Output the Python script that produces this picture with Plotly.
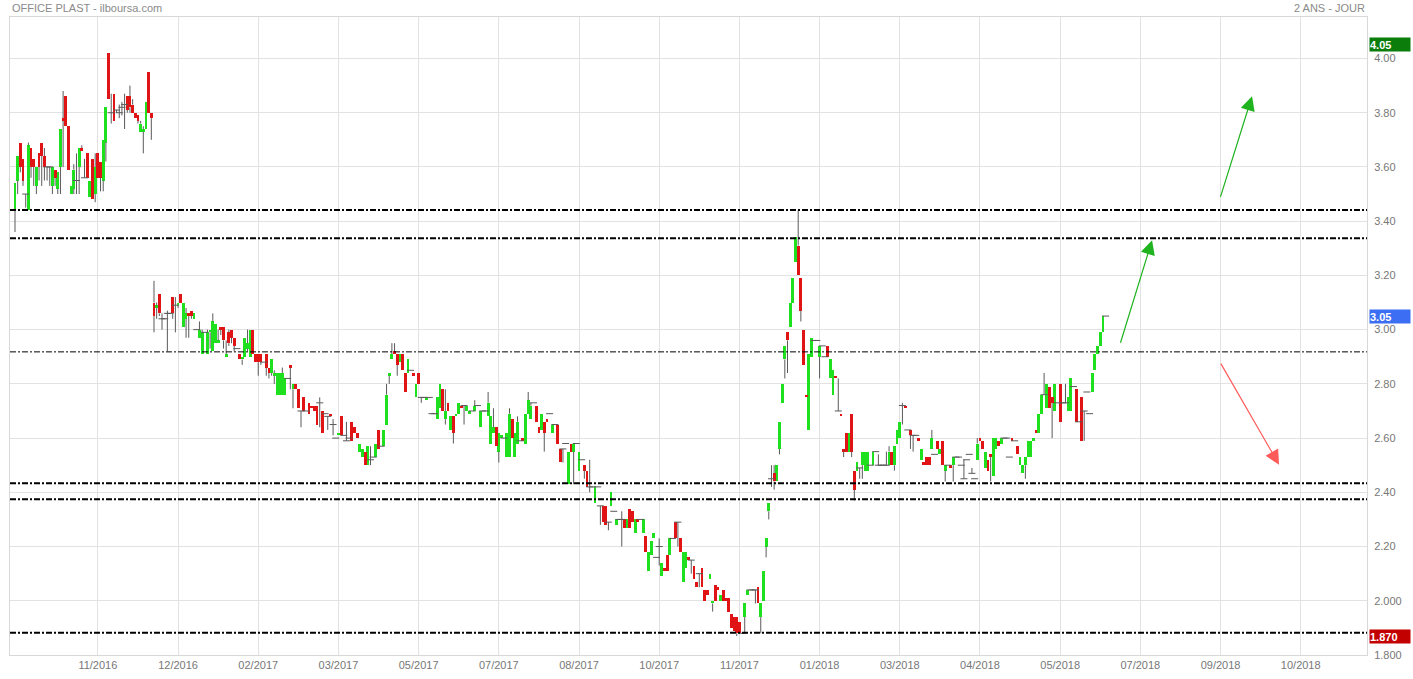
import plotly.graph_objects as go

title_left = "OFFICE PLAST - ilboursa.com"
title_right = "2 ANS - JOUR"

opens = [
    3.44,3.55,3.69,3.63,3.50,3.44,3.67,3.63,3.53,3.65,
    3.69,3.64,3.60,3.60,3.53,3.59,3.52,3.60,3.78,3.86,
    3.75,3.50,3.52,3.55,3.60,3.67,3.56,3.65,3.49,3.63,
    3.50,3.65,3.62,3.55,3.69,4.02,3.80,3.87,3.81,3.80,
    3.82,3.83,3.86,3.86,3.83,3.80,3.79,3.73,3.73,3.74,
    3.95,3.80,3.10,3.08,3.13,3.04,3.04,3.06,3.06,3.12,
    3.09,3.09,3.13,3.01,3.04,3.06,3.07,3.04,3.00,2.97,
    2.91,2.99,2.91,2.99,2.92,2.95,2.95,3.01,3.01,2.90,
    2.99,3.00,2.97,2.93,2.91,2.89,2.90,2.93,2.90,3.00,
    2.91,2.91,2.91,2.88,2.91,2.86,2.84,2.83,2.76,2.76,
    2.76,2.76,2.82,2.87,2.78,2.80,2.78,2.70,2.75,2.70,
    2.73,2.72,2.72,2.72,2.73,2.70,2.69,2.68,2.69,2.65,
    2.60,2.61,2.68,2.61,2.59,2.60,2.66,2.64,2.62,2.55,
    2.53,2.55,2.50,2.52,2.53,2.53,2.63,2.57,2.57,2.65,
    2.83,2.89,2.92,2.91,2.88,2.91,2.84,2.84,2.85,2.84,
    2.75,2.84,2.75,2.75,2.74,2.75,2.69,2.69,2.67,2.71,
    2.78,2.67,2.73,2.63,2.68,2.68,2.69,2.72,2.72,2.70,
    2.69,2.70,2.70,2.72,2.64,2.70,2.70,2.68,2.58,2.62,
    2.64,2.55,2.60,2.60,2.53,2.53,2.67,2.53,2.58,2.59,
    2.60,2.58,2.69,2.67,2.73,2.72,2.64,2.63,2.66,2.67,
    2.69,2.62,2.65,2.65,2.56,2.56,2.58,2.43,2.58,2.55,
    2.58,2.48,2.52,2.50,2.48,2.42,2.42,2.36,2.42,2.35,
    2.35,2.35,2.29,2.35,2.33,2.28,2.30,2.30,2.30,2.27,
    2.34,2.33,2.25,2.30,2.30,2.25,2.24,2.11,2.17,2.23,
    2.16,2.20,2.09,2.12,2.17,2.17,2.23,2.29,2.29,2.23,
    2.07,2.12,2.16,2.15,2.13,2.07,2.10,2.12,2.04,2.04,
    2.08,1.99,2.06,2.05,2.00,2.04,2.01,2.01,1.95,1.94,
    1.94,1.92,1.88,1.94,2.02,2.04,2.04,2.04,2.05,1.94,
    2.00,2.20,2.33,2.45,2.47,2.44,2.56,2.73,2.89,2.99,
    3.01,3.10,3.25,3.31,3.19,3.00,2.76,2.63,2.90,2.96,
    2.96,2.90,2.94,2.90,2.94,2.82,2.76,2.83,2.70,2.69,
    2.56,2.62,2.55,2.69,2.48,2.48,2.49,2.50,2.48,2.48,
    2.50,2.50,2.55,2.50,2.50,2.50,2.50,2.50,2.55,2.50,
    2.58,2.60,2.72,2.72,2.63,2.63,2.61,2.61,2.60,2.52,
    2.51,2.53,2.53,2.56,2.54,2.59,2.54,2.59,2.48,2.50,
    2.50,2.50,2.53,2.53,2.50,2.45,2.52,2.54,2.47,2.45,
    2.52,2.60,2.59,2.49,2.52,2.54,2.46,2.56,2.59,2.58,
    2.60,2.60,2.53,2.60,2.59,2.57,2.50,2.47,2.50,2.53,
    2.53,2.59,2.63,2.62,2.69,2.76,2.71,2.79,2.75,2.70,
    2.73,2.80,2.73,2.73,2.70,2.70,2.79,2.78,2.66,2.75,
    2.70,2.77,2.69,2.77,2.85,2.91,2.94,2.99,3.05,
]
highs = [
    3.54,3.64,3.69,3.63,3.50,3.69,3.67,3.63,3.60,3.65,
    3.69,3.67,3.60,3.60,3.60,3.59,3.58,3.74,3.88,3.86,
    3.75,3.53,3.61,3.65,3.67,3.68,3.63,3.65,3.55,3.63,
    3.65,3.65,3.62,3.70,3.82,4.02,3.87,3.87,3.81,3.83,
    3.84,3.87,3.86,3.90,3.85,3.80,3.79,3.77,3.75,3.84,
    3.95,3.80,3.18,3.10,3.13,3.06,3.04,3.07,3.06,3.12,
    3.12,3.10,3.13,3.10,3.08,3.06,3.07,3.06,3.00,3.03,
    3.00,2.99,3.00,3.00,3.06,3.02,3.00,3.01,3.01,2.96,
    3.00,3.00,2.97,2.93,2.91,2.90,2.97,3.00,3.00,3.00,
    2.91,2.91,2.91,2.88,2.91,2.86,2.89,2.85,2.84,2.84,
    2.86,2.82,2.82,2.87,2.80,2.80,2.78,2.70,2.75,2.70,
    2.73,2.72,2.72,2.72,2.75,2.70,2.69,2.68,2.69,2.67,
    2.60,2.62,2.68,2.61,2.66,2.60,2.66,2.64,2.62,2.58,
    2.56,2.55,2.57,2.57,2.53,2.58,2.63,2.57,2.63,2.80,
    2.84,2.95,2.95,2.91,2.91,2.91,2.84,2.89,2.85,2.84,
    2.80,2.84,2.75,2.75,2.75,2.75,2.69,2.69,2.75,2.80,
    2.78,2.78,2.73,2.68,2.68,2.69,2.73,2.72,2.72,2.72,
    2.70,2.70,2.74,2.72,2.70,2.70,2.70,2.77,2.68,2.71,
    2.64,2.62,2.61,2.60,2.62,2.71,2.67,2.62,2.68,2.59,
    2.60,2.69,2.77,2.73,2.73,2.72,2.64,2.69,2.66,2.67,
    2.69,2.65,2.65,2.65,2.56,2.56,2.58,2.55,2.58,2.58,
    2.58,2.55,2.52,2.50,2.48,2.52,2.42,2.42,2.42,2.35,
    2.35,2.35,2.29,2.40,2.33,2.30,2.30,2.33,2.30,2.30,
    2.34,2.33,2.30,2.30,2.30,2.30,2.24,2.18,2.22,2.25,
    2.16,2.23,2.14,2.12,2.17,2.23,2.23,2.29,2.29,2.23,
    2.18,2.18,2.16,2.15,2.13,2.07,2.10,2.12,2.04,2.04,
    2.10,2.00,2.06,2.05,2.02,2.04,2.01,2.01,1.95,1.94,
    1.94,1.92,1.88,1.99,2.04,2.04,2.04,2.04,2.05,1.99,
    2.11,2.23,2.36,2.50,2.50,2.50,2.66,2.80,2.94,2.99,
    3.10,3.19,3.34,3.44,3.19,3.00,2.76,2.91,2.97,2.96,
    2.96,2.94,2.94,2.90,2.94,2.89,2.85,2.83,2.82,2.69,
    2.56,2.62,2.62,2.69,2.48,2.51,2.49,2.55,2.55,2.55,
    2.50,2.55,2.55,2.54,2.50,2.50,2.55,2.57,2.55,2.57,
    2.63,2.66,2.73,2.72,2.63,2.63,2.61,2.61,2.60,2.56,
    2.51,2.53,2.53,2.63,2.54,2.59,2.56,2.59,2.50,2.50,
    2.50,2.53,2.53,2.53,2.50,2.52,2.52,2.54,2.49,2.45,
    2.60,2.60,2.59,2.55,2.52,2.54,2.60,2.60,2.59,2.60,
    2.60,2.60,2.53,2.60,2.59,2.57,2.53,2.50,2.53,2.59,
    2.59,2.60,2.63,2.69,2.76,2.84,2.80,2.79,2.75,2.80,
    2.73,2.80,2.73,2.80,2.75,2.82,2.79,2.78,2.66,2.75,
    2.70,2.77,2.69,2.84,2.91,2.94,2.99,3.05,3.05,
]
lows = [
    3.36,3.50,3.58,3.53,3.45,3.44,3.56,3.53,3.50,3.55,
    3.53,3.55,3.55,3.53,3.50,3.53,3.50,3.50,3.60,3.75,
    3.59,3.50,3.50,3.50,3.50,3.66,3.56,3.56,3.49,3.48,
    3.47,3.56,3.51,3.51,3.62,3.85,3.76,3.77,3.80,3.78,
    3.79,3.74,3.80,3.80,3.80,3.78,3.76,3.73,3.65,3.74,
    3.80,3.70,2.99,3.04,3.05,3.00,3.04,2.92,3.06,3.04,
    2.99,3.08,3.10,3.01,2.97,2.97,3.04,3.04,3.00,2.97,
    2.91,2.99,2.91,2.93,2.92,2.95,2.95,2.98,2.93,2.90,
    2.94,2.95,2.92,2.93,2.89,2.87,2.90,2.92,2.90,2.91,
    2.88,2.83,2.87,2.88,2.83,2.82,2.83,2.80,2.76,2.76,
    2.76,2.76,2.82,2.78,2.71,2.78,2.71,2.64,2.70,2.70,
    2.69,2.71,2.70,2.65,2.64,2.62,2.69,2.63,2.68,2.61,
    2.60,2.61,2.61,2.61,2.59,2.60,2.59,2.62,2.60,2.55,
    2.53,2.50,2.50,2.50,2.53,2.53,2.56,2.57,2.57,2.65,
    2.80,2.89,2.91,2.83,2.88,2.85,2.77,2.84,2.85,2.83,
    2.75,2.80,2.73,2.75,2.74,2.75,2.69,2.69,2.67,2.71,
    2.70,2.65,2.70,2.63,2.58,2.68,2.69,2.71,2.65,2.70,
    2.69,2.70,2.70,2.72,2.64,2.70,2.70,2.68,2.58,2.62,
    2.57,2.51,2.60,2.60,2.53,2.53,2.60,2.53,2.58,2.59,
    2.59,2.58,2.69,2.67,2.73,2.66,2.62,2.63,2.55,2.66,
    2.69,2.62,2.65,2.58,2.51,2.51,2.58,2.43,2.55,2.43,
    2.58,2.48,2.52,2.45,2.42,2.40,2.42,2.36,2.42,2.28,
    2.29,2.28,2.26,2.35,2.33,2.28,2.30,2.20,2.27,2.27,
    2.27,2.29,2.25,2.29,2.30,2.25,2.18,2.11,2.17,2.23,
    2.16,2.13,2.09,2.11,2.11,2.17,2.23,2.23,2.20,2.18,
    2.07,2.12,2.15,2.10,2.08,2.05,2.05,2.05,2.00,2.02,
    2.08,1.96,2.00,2.04,2.00,2.00,2.00,1.96,1.90,1.89,
    1.87,1.88,1.88,1.88,2.02,2.04,2.04,1.99,1.99,1.88,
    2.00,2.16,2.30,2.42,2.41,2.44,2.54,2.73,2.82,2.84,
    3.01,3.10,3.25,3.20,3.03,2.87,2.75,2.63,2.90,2.96,
    2.96,2.82,2.94,2.90,2.90,2.82,2.76,2.82,2.70,2.68,
    2.53,2.55,2.55,2.53,2.37,2.48,2.45,2.45,2.48,2.48,
    2.50,2.50,2.55,2.50,2.50,2.50,2.50,2.50,2.50,2.48,
    2.58,2.60,2.65,2.71,2.63,2.56,2.55,2.61,2.59,2.52,
    2.50,2.50,2.50,2.56,2.54,2.56,2.54,2.50,2.44,2.50,
    2.49,2.44,2.53,2.53,2.50,2.45,2.52,2.54,2.47,2.45,
    2.52,2.59,2.56,2.49,2.48,2.44,2.46,2.56,2.57,2.58,
    2.60,2.60,2.53,2.59,2.59,2.54,2.50,2.47,2.45,2.53,
    2.53,2.59,2.62,2.62,2.69,2.76,2.71,2.71,2.60,2.70,
    2.73,2.66,2.73,2.73,2.70,2.70,2.79,2.66,2.66,2.59,
    2.59,2.77,2.69,2.77,2.85,2.91,2.94,2.99,3.05,
]
closes = [
    3.54,3.64,3.60,3.55,3.50,3.68,3.60,3.60,3.60,3.60,
    3.64,3.60,3.60,3.60,3.60,3.56,3.58,3.74,3.77,3.75,
    3.59,3.53,3.59,3.55,3.67,3.66,3.56,3.56,3.55,3.48,
    3.60,3.56,3.56,3.70,3.82,3.85,3.80,3.77,3.81,3.80,
    3.82,3.83,3.81,3.82,3.80,3.78,3.77,3.76,3.74,3.84,
    3.80,3.78,3.05,3.09,3.06,3.04,3.04,3.06,3.06,3.06,
    3.09,3.10,3.10,3.10,3.06,3.05,3.05,3.06,3.00,3.00,
    2.99,2.99,2.99,3.00,3.03,3.02,2.96,3.00,2.96,2.91,
    2.95,2.97,2.94,2.93,2.89,2.90,2.97,2.95,3.00,2.91,
    2.88,2.88,2.88,2.88,2.86,2.84,2.89,2.84,2.84,2.84,
    2.84,2.82,2.82,2.86,2.80,2.78,2.71,2.70,2.70,2.70,
    2.69,2.71,2.70,2.65,2.73,2.62,2.69,2.68,2.68,2.65,
    2.60,2.62,2.61,2.61,2.59,2.60,2.59,2.62,2.60,2.58,
    2.56,2.50,2.57,2.52,2.53,2.58,2.56,2.57,2.63,2.76,
    2.84,2.91,2.91,2.87,2.91,2.85,2.77,2.89,2.85,2.83,
    2.80,2.80,2.75,2.75,2.75,2.75,2.69,2.69,2.75,2.80,
    2.70,2.70,2.70,2.68,2.62,2.69,2.73,2.71,2.72,2.72,
    2.70,2.70,2.72,2.72,2.70,2.70,2.70,2.73,2.68,2.64,
    2.57,2.62,2.61,2.60,2.62,2.69,2.60,2.62,2.66,2.59,
    2.59,2.69,2.74,2.72,2.73,2.66,2.62,2.69,2.62,2.66,
    2.69,2.65,2.65,2.58,2.51,2.56,2.58,2.55,2.55,2.58,
    2.58,2.55,2.52,2.48,2.42,2.42,2.42,2.42,2.42,2.35,
    2.29,2.28,2.29,2.40,2.33,2.30,2.30,2.30,2.27,2.30,
    2.27,2.29,2.30,2.29,2.30,2.30,2.18,2.18,2.22,2.25,
    2.16,2.20,2.14,2.11,2.11,2.23,2.23,2.23,2.29,2.18,
    2.18,2.18,2.15,2.15,2.08,2.05,2.10,2.05,2.00,2.02,
    2.10,2.00,2.00,2.04,2.02,2.00,2.00,1.96,1.90,1.89,
    1.88,1.88,1.88,1.99,2.04,2.04,2.04,2.04,1.99,1.99,
    2.11,2.23,2.36,2.45,2.44,2.50,2.66,2.80,2.94,2.96,
    3.10,3.19,3.34,3.20,3.07,2.87,2.75,2.91,2.97,2.96,
    2.96,2.94,2.94,2.90,2.90,2.89,2.85,2.82,2.70,2.68,
    2.55,2.55,2.62,2.55,2.41,2.51,2.49,2.55,2.55,2.55,
    2.50,2.55,2.55,2.50,2.50,2.50,2.50,2.55,2.50,2.57,
    2.63,2.66,2.72,2.71,2.63,2.61,2.61,2.61,2.59,2.56,
    2.50,2.50,2.50,2.60,2.54,2.56,2.56,2.50,2.50,2.50,
    2.49,2.53,2.53,2.53,2.50,2.45,2.52,2.54,2.47,2.45,
    2.58,2.59,2.56,2.55,2.48,2.53,2.60,2.60,2.57,2.60,
    2.60,2.60,2.53,2.59,2.59,2.54,2.53,2.50,2.53,2.59,
    2.59,2.60,2.62,2.69,2.76,2.76,2.80,2.71,2.73,2.80,
    2.73,2.66,2.73,2.73,2.75,2.82,2.79,2.66,2.66,2.59,
    2.70,2.77,2.69,2.84,2.91,2.94,2.99,3.05,3.05,
]

tick_bars = [31, 61, 91, 121, 151, 181, 211, 241, 271, 301, 331, 361, 391, 421, 451, 481]
tick_labels = ["11/2016", "12/2016", "02/2017", "03/2017", "05/2017", "07/2017", "08/2017", "10/2017",
               "11/2017", "01/2018", "03/2018", "04/2018", "05/2018", "07/2018", "09/2018", "10/2018"]
y_ticks = [1.8, 2.0, 2.2, 2.4, 2.6, 2.8, 3.0, 3.2, 3.4, 3.6, 3.8, 4.0]
y_tick_labels = ["1.800", "2.000", "2.20", "2.40", "2.60", "2.80", "3.00", "3.20", "3.40", "3.60", "3.80", "4.00"]

level_values = [3.441, 3.337, 2.918, 2.433, 2.374, 1.882]
level_widths = [2, 2, 1, 2, 2, 2]

tag_texts = ["4.05", "3.05", "1.870"]
tag_values = [4.05, 3.05, 1.87]
tag_colors = ["#0b7d0b", "#3c6ef4", "#c30000"]

# trend arrows: tail (bar, price) -> head (bar, price)
arrow_tail_x = [450.8, 413.4, 450.8]
arrow_tail_y = [3.484, 2.946, 2.880]
arrow_head_x = [462.8, 425.4, 472.9]
arrow_head_y = [3.861, 3.330, 2.502]
arrow_colors = ["#1fb31f", "#1fb31f", "#ff5a5a"]

n = len(closes)
idx = list(range(n))

fig = go.Figure()

# bodies (bar layer sits below the wick/doji scatter layer)
up = [i for i in idx if closes[i] > opens[i]]
dn = [i for i in idx if closes[i] < opens[i]]
fl = [i for i in idx if closes[i] == opens[i]]
fig.add_trace(go.Bar(x=up, base=[opens[i] for i in up], y=[closes[i] - opens[i] for i in up],
                     width=1.05, marker=dict(color="#1ee01e", line=dict(width=0)),
                     showlegend=False))
fig.add_trace(go.Bar(x=dn, base=[closes[i] for i in dn], y=[opens[i] - closes[i] for i in dn],
                     width=1.05, marker=dict(color="#e01414", line=dict(width=0)),
                     showlegend=False))

# wicks: only the parts outside the body
wx, wy = [], []
for i in idx:
    top = max(opens[i], closes[i])
    bot = min(opens[i], closes[i])
    if highs[i] > top:
        wx += [i, i, None]
        wy += [top, highs[i], None]
    if lows[i] < bot:
        wx += [i, i, None]
        wy += [lows[i], bot, None]
fig.add_trace(go.Scatter(x=wx, y=wy, mode="lines", line=dict(color="#5a5a5a", width=1),
                         hoverinfo="skip", showlegend=False))

fig.add_trace(go.Scatter(x=fl, y=[closes[i] for i in fl], mode="markers",
                         marker=dict(symbol="line-ew", size=5, line=dict(color="#5a5a5a", width=1)),
                         showlegend=False, hoverinfo="skip"))

for v, w in zip(level_values, level_widths):
    fig.add_shape(type="line", xref="paper", x0=0, x1=1, yref="y", y0=v, y1=v,
                  line=dict(color="black", width=w, dash="6px,2px,2px,2px"), layer="above")

for x0, y0, x1, y1, c in zip(arrow_tail_x, arrow_tail_y, arrow_head_x, arrow_head_y, arrow_colors):
    fig.add_annotation(x=x1, y=y1, ax=x0, ay=y0, xref="x", yref="y", axref="x", ayref="y",
                       text="", showarrow=True, arrowhead=2, arrowsize=2.4, arrowwidth=1.2,
                       arrowcolor=c, standoff=0, startstandoff=0)

for t, v, c in zip(tag_texts, tag_values, tag_colors):
    fig.add_annotation(x=1, xref="paper", y=v, yref="y", text="<b>" + t + "</b>", showarrow=False,
                       xanchor="left", yanchor="middle", xshift=2, align="left",
                       bgcolor=c, font=dict(color="white", size=11, family="Liberation Sans, Arial"),
                       width=40, height=13, borderpad=0)

fig.add_annotation(x=0, y=1, xref="paper", yref="paper", text=title_left, showarrow=False,
                   xanchor="left", yanchor="bottom", yshift=1,
                   font=dict(size=11, color="#8a8a8a", family="Liberation Sans, Arial"))
fig.add_annotation(x=1, y=1, xref="paper", yref="paper", text=title_right, showarrow=False,
                   xanchor="right", yanchor="bottom", yshift=1,
                   font=dict(size=11, color="#8a8a8a", family="Liberation Sans, Arial"))

fig.update_layout(
    width=1413, height=679,
    margin=dict(l=10, r=46, t=17, b=24),
    plot_bgcolor="white", paper_bgcolor="white",
    barmode="overlay", bargap=0,
    showlegend=False,
    font=dict(family="Liberation Sans, Arial", size=11, color="#777777"),
    xaxis=dict(range=[-1.87, 505.8], tickvals=tick_bars, ticktext=tick_labels,
               showgrid=True, gridcolor="#e2e2e2", gridwidth=1, zeroline=False,
               showline=True, mirror=True, linecolor="#d8d8d8", linewidth=1,
               ticks="", automargin=False, tickfont=dict(size=11, color="#777777")),
    yaxis=dict(range=[1.8, 4.153], side="right", tickvals=y_ticks, ticktext=y_tick_labels,
               showgrid=True, gridcolor="#e2e2e2", gridwidth=1, zeroline=False,
               showline=True, mirror=True, linecolor="#d8d8d8", linewidth=1,
               ticks="", automargin=False, ticklabelstandoff=4,
               tickfont=dict(size=11, color="#777777")),
)

# remove the default 8px page margin so the figure fills the window exactly
fig.write_html("out.html", config={"displayModeBar": False},
               post_script="document.body.style.margin='0px';")
